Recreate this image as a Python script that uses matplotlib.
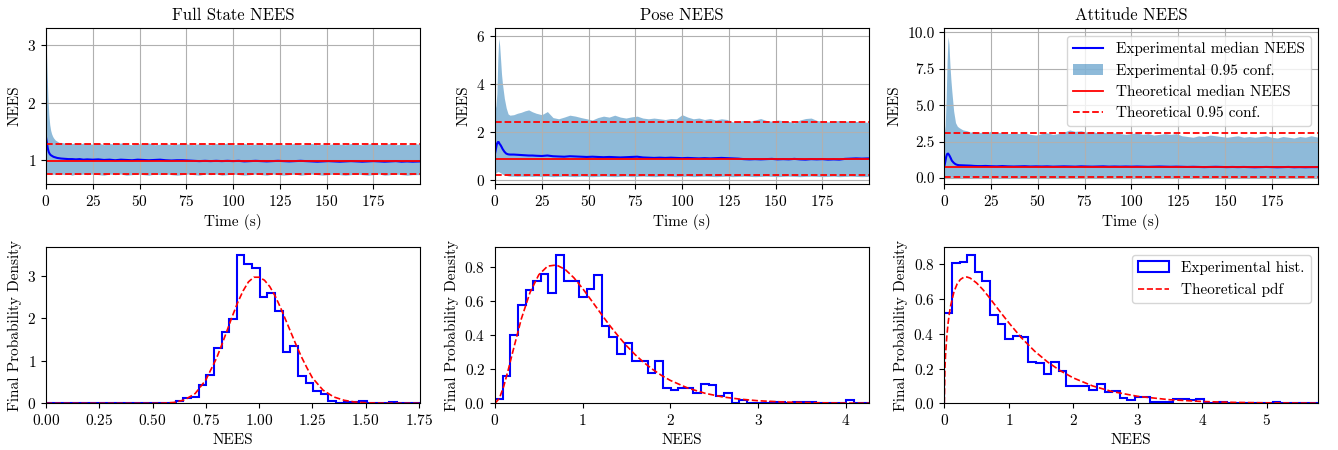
import numpy as np
import matplotlib
matplotlib.use("Agg")
import matplotlib.pyplot as plt

plt.rcParams['font.family'] = 'serif'
plt.rcParams['font.serif'] = ['cmr10']
plt.rcParams['mathtext.fontset'] = 'cm'
plt.rcParams['axes.formatter.use_mathtext'] = True
plt.rcParams['font.size'] = 11

# ---------------- time series data ----------------
time_s = [0, 0.5, 1, 1.5, 2, 2.5, 3, 3.5, 4, 5, 6, 7, 8, 10, 12, 14, 16, 18, 20, 22,
          25, 28, 31, 34, 37, 40, 43, 46, 49, 52, 55, 58, 61, 64, 67, 70, 73, 76, 79, 82, 85, 88, 91, 94, 97,
          100, 103, 106, 109, 112, 115, 118, 121, 124, 127, 130, 133, 136, 139, 142, 145, 148, 151, 154, 157,
          160, 163, 166, 169, 172, 175, 178, 181, 184, 187, 190, 193, 196, 199.9]

full_upper = [3.17, 2.60, 2.10, 1.80, 1.62, 1.52, 1.46, 1.42, 1.39, 1.35, 1.33, 1.31, 1.31, 1.30, 1.31, 1.29, 1.30, 1.28, 1.30, 1.29,
              1.28, 1.30, 1.27, 1.29, 1.28, 1.30, 1.28, 1.27, 1.29, 1.28, 1.30, 1.27, 1.28, 1.29, 1.27, 1.28, 1.30, 1.28, 1.27, 1.29, 1.28, 1.27, 1.29, 1.28, 1.30,
              1.27, 1.28, 1.29, 1.27, 1.28, 1.29, 1.27, 1.28, 1.30, 1.27, 1.28, 1.29, 1.27, 1.28, 1.29, 1.27, 1.28, 1.27, 1.29, 1.28,
              1.27, 1.29, 1.28, 1.27, 1.28, 1.30, 1.27, 1.28, 1.29, 1.27, 1.28, 1.27, 1.29, 1.28]
full_lower = [0.80, 0.78, 0.77, 0.76, 0.76, 0.75, 0.76, 0.75, 0.76, 0.75, 0.76, 0.75, 0.76, 0.75, 0.76, 0.74, 0.76, 0.75, 0.76, 0.75,
              0.76, 0.75, 0.74, 0.76, 0.75, 0.76, 0.74, 0.75, 0.76, 0.75, 0.74, 0.76, 0.75, 0.76, 0.75, 0.74, 0.75, 0.76, 0.75, 0.74, 0.76, 0.75, 0.76, 0.74, 0.75,
              0.76, 0.75, 0.74, 0.75, 0.76, 0.75, 0.74, 0.76, 0.75, 0.74, 0.75, 0.76, 0.74, 0.75, 0.76, 0.75, 0.74, 0.75, 0.76, 0.75,
              0.74, 0.75, 0.76, 0.75, 0.74, 0.75, 0.76, 0.74, 0.75, 0.76, 0.75, 0.74, 0.75, 0.75]
full_median = [1.40, 1.30, 1.20, 1.14, 1.11, 1.09, 1.08, 1.07, 1.06, 1.05, 1.04, 1.035, 1.03, 1.025, 1.02, 1.02, 1.015, 1.02, 1.01, 1.015,
               1.01, 1.015, 1.005, 1.01, 1.0, 1.01, 1.005, 1.0, 1.01, 1.005, 1.0, 1.005, 1.01, 1.0, 0.995, 1.0, 1.0, 0.995, 0.99, 0.985, 0.99, 0.985, 0.99, 0.985, 0.99,
               0.985, 0.99, 0.98, 0.985, 0.99, 0.985, 0.98, 0.985, 0.99, 0.985, 0.98, 0.985, 0.99, 0.985, 0.98, 0.975, 0.98, 0.985, 0.98, 0.975,
               0.98, 0.985, 0.98, 0.975, 0.98, 0.985, 0.98, 0.975, 0.98, 0.985, 0.975, 0.98, 0.975, 0.98]

pose_upper = [2.90, 3.10, 3.60, 5.00, 5.90, 5.60, 5.00, 4.40, 4.00, 3.40, 3.00, 2.75, 2.70, 2.72, 2.78, 2.82, 2.88, 2.92, 2.84, 2.78,
              2.72, 2.85, 2.60, 2.55, 2.62, 2.70, 2.66, 2.60, 2.55, 2.50, 2.60, 2.66, 2.62, 2.70, 2.62, 2.58, 2.63, 2.66, 2.58, 2.55, 2.58, 2.55, 2.52, 2.56, 2.55,
              2.72, 2.62, 2.55, 2.58, 2.52, 2.56, 2.50, 2.55, 2.52, 2.42, 2.45, 2.48, 2.45, 2.50, 2.56, 2.48, 2.45, 2.50, 2.47, 2.44,
              2.38, 2.50, 2.56, 2.58, 2.48, 2.45, 2.42, 2.45, 2.48, 2.44, 2.47, 2.44, 2.42, 2.40]
pose_lower = [0.25, 0.30, 0.33, 0.35, 0.34, 0.32, 0.30, 0.27, 0.24, 0.21, 0.19, 0.17, 0.16, 0.16, 0.15, 0.16, 0.15, 0.16, 0.15, 0.16,
              0.15, 0.16, 0.14, 0.15, 0.16, 0.15, 0.14, 0.16, 0.15, 0.14, 0.15, 0.16, 0.15, 0.14, 0.15, 0.16, 0.14, 0.15, 0.16, 0.15, 0.14, 0.15, 0.16, 0.15, 0.14,
              0.15, 0.16, 0.14, 0.15, 0.16, 0.15, 0.14, 0.15, 0.16, 0.14, 0.15, 0.16, 0.15, 0.14, 0.15, 0.16, 0.15, 0.14, 0.15, 0.16,
              0.15, 0.14, 0.15, 0.16, 0.15, 0.14, 0.15, 0.16, 0.14, 0.15, 0.16, 0.15, 0.14, 0.15]
pose_median = [1.10, 1.30, 1.50, 1.58, 1.58, 1.50, 1.45, 1.38, 1.30, 1.18, 1.10, 1.07, 1.06, 1.06, 1.05, 1.04, 1.03, 1.02, 1.02, 1.01,
               1.00, 1.02, 0.99, 0.98, 0.97, 0.99, 0.98, 0.97, 0.96, 0.97, 0.96, 0.95, 0.96, 0.95, 0.94, 0.95, 0.96, 0.97, 0.94, 0.93, 0.92, 0.93, 0.92, 0.93, 0.92,
               0.91, 0.92, 0.91, 0.90, 0.91, 0.90, 0.91, 0.92, 0.91, 0.90, 0.89, 0.87, 0.86, 0.87, 0.86, 0.87, 0.88, 0.86, 0.87, 0.86,
               0.88, 0.86, 0.85, 0.87, 0.86, 0.87, 0.85, 0.86, 0.85, 0.88, 0.89, 0.90, 0.89, 0.90]

att_upper = [3.10, 3.60, 5.50, 8.00, 9.70, 9.20, 7.80, 6.80, 6.00, 4.60, 3.80, 3.55, 3.45, 3.30, 3.25, 3.15, 3.20, 3.10, 3.15, 3.10,
             3.20, 3.10, 3.15, 3.05, 3.10, 3.05, 3.10, 3.00, 2.95, 3.05, 3.10, 3.00, 3.05, 3.15, 3.30, 3.20, 3.25, 3.15, 3.20, 3.10, 3.15, 3.05, 3.10, 3.05, 3.00,
             3.05, 3.10, 3.00, 3.05, 2.95, 3.00, 3.05, 3.00, 3.05, 2.90, 2.85, 2.80, 2.90, 2.85, 2.95, 2.90, 2.85, 2.80, 2.85, 2.90,
             2.80, 2.85, 2.80, 2.85, 2.90, 2.80, 2.75, 2.85, 2.80, 2.75, 2.85, 2.80, 2.90, 2.80]
att_lower = [0.10, 0.09, 0.08, 0.07, 0.06, 0.06, 0.05, 0.05, 0.05, 0.05, 0.04, 0.05, 0.04, 0.05, 0.04, 0.05, 0.04, 0.05, 0.04, 0.05,
             0.04, 0.05, 0.04, 0.05, 0.04, 0.03, 0.05, 0.04, 0.05, 0.04, 0.05, 0.04, 0.03, 0.05, 0.04, 0.05, 0.04, 0.05, 0.04, 0.03, 0.05, 0.04, 0.05, 0.04, 0.05,
             0.04, 0.05, 0.04, 0.03, 0.05, 0.04, 0.05, 0.04, 0.03, 0.05, 0.04, 0.05, 0.04, 0.05, 0.03, 0.04, 0.05, 0.04, 0.05, 0.04,
             0.05, 0.04, 0.03, 0.05, 0.04, 0.05, 0.04, 0.05, 0.04, 0.03, 0.05, 0.04, 0.05, 0.04]
att_median = [0.80, 1.10, 1.45, 1.65, 1.68, 1.60, 1.48, 1.35, 1.20, 1.05, 0.95, 0.90, 0.88, 0.87, 0.86, 0.85, 0.83, 0.82, 0.82, 0.83,
              0.81, 0.80, 0.82, 0.80, 0.79, 0.80, 0.81, 0.79, 0.80, 0.79, 0.80, 0.78, 0.79, 0.80, 0.79, 0.78, 0.80, 0.79, 0.78, 0.79, 0.80, 0.78, 0.79, 0.78, 0.79,
              0.78, 0.79, 0.78, 0.77, 0.78, 0.79, 0.78, 0.77, 0.78, 0.77, 0.76, 0.77, 0.76, 0.75, 0.76, 0.77, 0.76, 0.75, 0.76, 0.75,
              0.76, 0.75, 0.74, 0.75, 0.76, 0.75, 0.74, 0.75, 0.76, 0.74, 0.75, 0.74, 0.75, 0.75]

# theoretical median and 95% bounds
theo_median = [0.994, 0.891, 0.789]
theo_low = [0.755, 0.206, 0.072]
theo_high = [1.280, 2.408, 3.116]

# ---------------- histogram data ----------------
hist_xmax = [1.755, 4.266, 5.80]
full_hist = [0]*17 + [0.06, 0.13, 0.15, 0.42, 0.67, 1.31, 1.67, 1.98, 3.50, 3.28, 3.19, 2.50, 2.59, 2.18, 1.20, 1.34,
                      0.65, 0.49, 0.29, 0.21, 0.06, 0.0, 0.02, 0.02, 0.06, 0.0, 0.0, 0.0, 0.03, 0.0, 0.0, 0.0]
pose_hist = [0.025, 0.16, 0.40, 0.575, 0.665, 0.715, 0.76, 0.645, 0.87, 0.715, 0.715, 0.62, 0.67, 0.75, 0.45, 0.39,
             0.29, 0.355, 0.245, 0.245, 0.175, 0.25, 0.09, 0.08, 0.09, 0.09, 0.06, 0.115, 0.105, 0.04, 0.06, 0.0,
             0.02, 0.0, 0.0, 0.0, 0.01, 0.01, 0.0, 0.01, 0.01, 0.01, 0.0, 0.0, 0.0, 0.0, 0.02, 0.0, 0.0]
att_hist = [0.517, 0.805, 0.812, 0.854, 0.753, 0.703, 0.508, 0.458, 0.372, 0.389,
            0.381, 0.239, 0.232, 0.170, 0.238, 0.188, 0.100, 0.100, 0.100, 0.077,
            0.110, 0.063, 0.073, 0.029, 0.019, 0.034, 0.034, 0.008, 0.008, 0.008,
            0.023, 0.023, 0.017, 0.025, 0.0, 0.004, 0.008, 0.004, 0.0, 0.0,
            0.004, 0.0, 0.0, 0.010, 0.0, 0.0, 0.0, 0.0, 0.0]

full_pdf_x = [0.0, 0.50, 0.55, 0.60, 0.65, 0.70, 0.75, 0.80, 0.825, 0.85, 0.875, 0.90, 0.925, 0.95, 0.975, 1.00,
              1.025, 1.05, 1.075, 1.10, 1.125, 1.15, 1.175, 1.20, 1.225, 1.25, 1.30, 1.35, 1.40, 1.45, 1.50, 1.60, 1.755]
full_pdf_y = [0.0, 0.0, 0.004, 0.02, 0.08, 0.23, 0.55, 1.06, 1.38, 1.72, 2.06, 2.38, 2.65, 2.86, 2.97, 2.97,
              2.90, 2.75, 2.53, 2.26, 1.96, 1.66, 1.36, 1.08, 0.83, 0.60, 0.31, 0.15, 0.07, 0.03, 0.012, 0.002, 0.0]
pose_pdf_x = [0.0, 0.05, 0.1, 0.15, 0.2, 0.3, 0.4, 0.5, 0.6, 0.7, 0.8, 0.9, 1.0, 1.1, 1.2, 1.3, 1.4, 1.5, 1.6,
              1.7, 1.8, 1.9, 2.0, 2.2, 2.4, 2.6, 2.8, 3.0, 3.3, 3.6, 4.0, 4.266]
pose_pdf_y = [0.0, 0.029, 0.10, 0.194, 0.296, 0.494, 0.65, 0.753, 0.803, 0.81, 0.784, 0.735, 0.672, 0.602, 0.531,
              0.461, 0.397, 0.337, 0.284, 0.238, 0.198, 0.163, 0.134, 0.089, 0.058, 0.037, 0.024, 0.015, 0.0074,
              0.0036, 0.0013, 0.0006]
att_pdf_x = [0.0, 0.01, 0.02, 0.04, 0.06, 0.08, 0.1, 0.15, 0.2, 0.25, 0.3, 0.35, 0.4, 0.5, 0.6, 0.7, 0.8, 0.9,
             1.0, 1.2, 1.4, 1.6, 1.8, 2.0, 2.3, 2.6, 3.0, 3.5, 4.0, 4.5, 5.0, 5.8]
att_pdf_y = [0.0, 0.204, 0.284, 0.39, 0.464, 0.52, 0.564, 0.641, 0.687, 0.712, 0.724, 0.726, 0.72, 0.692, 0.653,
             0.607, 0.558, 0.51, 0.463, 0.375, 0.30, 0.238, 0.187, 0.146, 0.0998, 0.0677, 0.040, 0.0204, 0.0103,
             0.0052, 0.0026, 0.0008]

titles = ["Full State NEES", "Pose NEES", "Attitude NEES"]
uppers = [full_upper, pose_upper, att_upper]
lowers = [full_lower, pose_lower, att_lower]
medians = [full_median, pose_median, att_median]
hists = [full_hist, pose_hist, att_hist]
pdf_xs = [full_pdf_x, pose_pdf_x, att_pdf_x]
pdf_ys = [full_pdf_y, pose_pdf_y, att_pdf_y]
top_ylims = [(0.587, 3.30), (-0.166, 6.33), (-0.41, 10.3)]
top_yticks = [[1, 2, 3], [0, 2, 4, 6], [0, 2.5, 5.0, 7.5, 10.0]]

W, H = 1338, 450
fig = plt.figure(figsize=(W / 100, H / 100), dpi=100)
lefts = [46, 495, 944.3]
aw = 374
ah = 156
t = np.array(time_s)

for i in range(3):
    ax = fig.add_axes([lefts[i] / W, 1 - 184 / H, aw / W, ah / H])
    ax.plot(t, medians[i], color='b', lw=1.5, label='Experimental median NEES')
    ax.fill_between(t, lowers[i], uppers[i], color='C0', alpha=0.5, lw=0,
                    label='Experimental 0.95 conf.')
    ax.axhline(theo_median[i], color='r', lw=1.3, label='Theoretical median NEES')
    ax.axhline(theo_high[i], color='r', ls='--', lw=1.3, label='Theoretical 0.95 conf.')
    ax.axhline(theo_low[i], color='r', ls='--', lw=1.3)
    ax.set_xlim(0, 199.9)
    ax.set_ylim(*top_ylims[i])
    ax.set_xticks([0, 25, 50, 75, 100, 125, 150, 175])
    ax.set_yticks(top_yticks[i])
    if i == 2:
        ax.set_yticklabels(["0.0", "2.5", "5.0", "7.5", "10.0"])
    ax.grid(True)
    ax.set_title(titles[i], fontsize=12)
    ax.set_xlabel("Time (s)")
    ax.set_ylabel("NEES")
    if i == 2:
        ax.legend(loc='upper right', fontsize=11)

    bx = fig.add_axes([lefts[i] / W, 1 - 403.3 / H, aw / W, ah / H])
    edges = np.linspace(0, hist_xmax[i], len(hists[i]) + 1)
    bx.hist(edges[:-1], bins=edges, weights=hists[i], histtype='step', color='b', lw=1.5,
            label='Experimental hist.')
    bx.plot(pdf_xs[i], pdf_ys[i], 'r--', lw=1.2, label='Theoretical pdf')
    bx.set_xlim(0, hist_xmax[i])
    bx.set_xlabel("NEES")
    bx.set_ylabel("Final Probability Density")
    if i == 2:
        bx.legend(loc='upper right', fontsize=11)

fig.savefig("out.png", dpi=100)
